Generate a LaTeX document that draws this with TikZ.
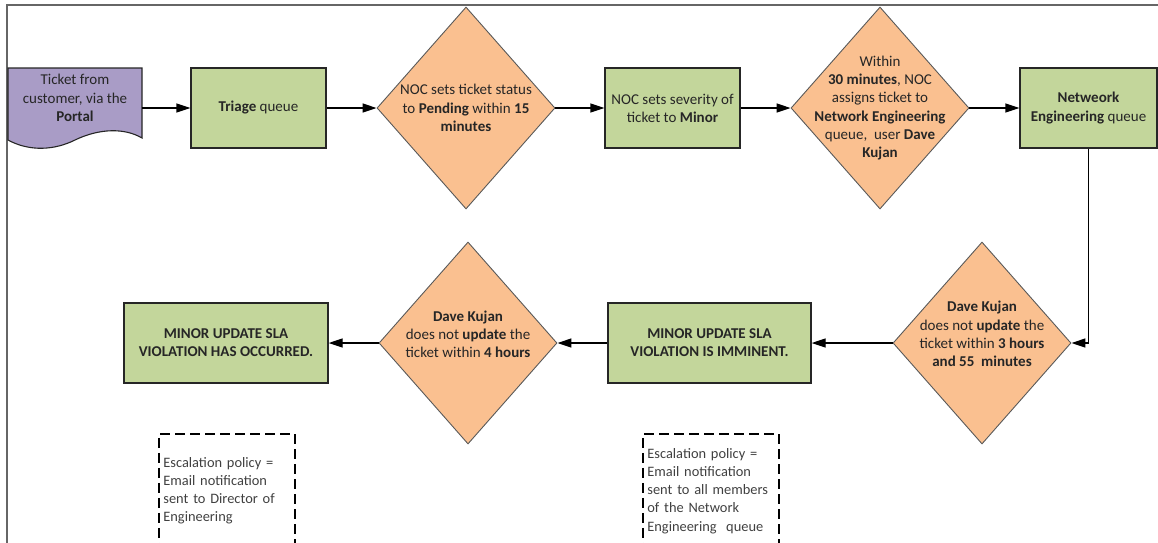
\documentclass[tikz,border=0pt]{standalone}
\usepackage{fontspec}
\setmainfont{Carlito}
\usepackage{xcolor}
\usepackage{tikz}
\usetikzlibrary{arrows.meta,shapes.geometric}
\definecolor{qgreen}{HTML}{C3D69B}
\definecolor{qorange}{HTML}{FAC090}
\definecolor{qpurple}{HTML}{A99CC6}
\hyphenpenalty=10000

\begin{document}
\begin{tikzpicture}[x=1pt,y=-1pt,
    font=\fontsize{15}{18.2}\selectfont, text=black!85,
    queue/.style={draw=black!85,line width=1.3pt,fill=qgreen,minimum width=135pt,minimum height=80pt,align=center,inner sep=0pt},
    check/.style={diamond,draw=black!65,line width=0.9pt,fill=qorange,minimum width=178pt,minimum height=202pt,inner sep=0pt},
    note/.style={draw=black,line width=1.8pt,dash pattern=on 10pt off 5pt,minimum width=135pt,minimum height=114pt,text width=127pt,inner xsep=4.5pt,align=left,anchor=north west,text=black!75,font=\fontsize{14.4}{18.2}\selectfont},
    flow/.style={line width=1.3pt,-{Triangle[length=14pt,width=9pt]}}]
        \useasboundingbox (0,0) rectangle (1158,542);
        \clip (0,0) rectangle (1158,542);
        \draw[black!60,line width=1.2pt] (7,545) -- (7,5) -- (1160,5);

        % ticket source (document shape)
        \draw[draw=black!85,line width=1.1pt,fill=qpurple] (8,68) -- (142,68) -- (142,138)
            .. controls (125,128) and (100,128) .. (75,140)
            .. controls (55,150) and (30,152) .. (8,140) -- cycle;
        \node[minimum width=134pt,minimum height=80pt] (src) at (75,108) {};
        \node[align=center] at (75,98) {Ticket from\\customer, via the\\\textbf{Portal}};

        % top row
        \node[queue] (triage) at (258.5,108) {\textbf{Triage} queue};
        \node[check] (d1) at (466,108) {};
        \node[align=center] at (d1) {NOC sets ticket status\\to \textbf{Pending} within \textbf{15}\\\textbf{minutes}};
        \node[queue] (sev) at (672.5,108) {NOC sets severity of\\ticket to \textbf{Minor}};
        \node[check] (d2) at (880,108) {};
        \node[align=center] at (d2) {Within\\\textbf{30 minutes}, NOC\\assigns ticket to\\\textbf{Network Engineering}\\queue,\ \ user \textbf{Dave}\\\textbf{Kujan}};
        \node[queue,minimum width=137pt] (net) at (1088.5,108) {\textbf{Netweork}\\\textbf{Engineering} queue};

        % bottom row
        \node[check] (d3) at (982,343) {};
        \node[align=center] at (982,334) {\textbf{Dave Kujan}\\does not \textbf{update} the\\ticket within \textbf{3 hours}\\\textbf{and 55\ \ minutes}};
        \node[queue,minimum width=203pt] (imm) at (709.5,343) {\textbf{MINOR UPDATE SLA}\\\textbf{VIOLATION IS IMMINENT.}};
        \node[check] (d4) at (468,343) {};
        \node[align=center] at (468,334) {\textbf{Dave Kujan}\\does not \textbf{update} the\\ticket within \textbf{4 hours}};
        \node[queue,minimum width=204pt] (occ) at (226,343) {\textbf{MINOR UPDATE SLA}\\\textbf{VIOLATION HAS OCCURRED.}};

        % escalation notes
        \node[note] (esc1) at (158,433) {Escalation policy =\\Email notification\\sent to Director of\\Engineering};
        \node[note] (esc2) at (642,433) {Escalation policy =\\Email notification\\sent to all members\\of the Network\\Engineering\ \ queue};

        % flow
        \draw[flow] (src) -- (triage);
        \draw[flow] (triage) -- (d1);
        \draw[flow] (d1) -- (sev);
        \draw[flow] (sev) -- (d2);
        \draw[flow] (d2) -- (net);
        \draw[flow] (net.south) |- (d3.east);
        \draw[flow] (d3) -- (imm);
        \draw[flow] (imm) -- (d4);
        \draw[flow] (d4) -- (occ);
\end{tikzpicture}
\end{document}
